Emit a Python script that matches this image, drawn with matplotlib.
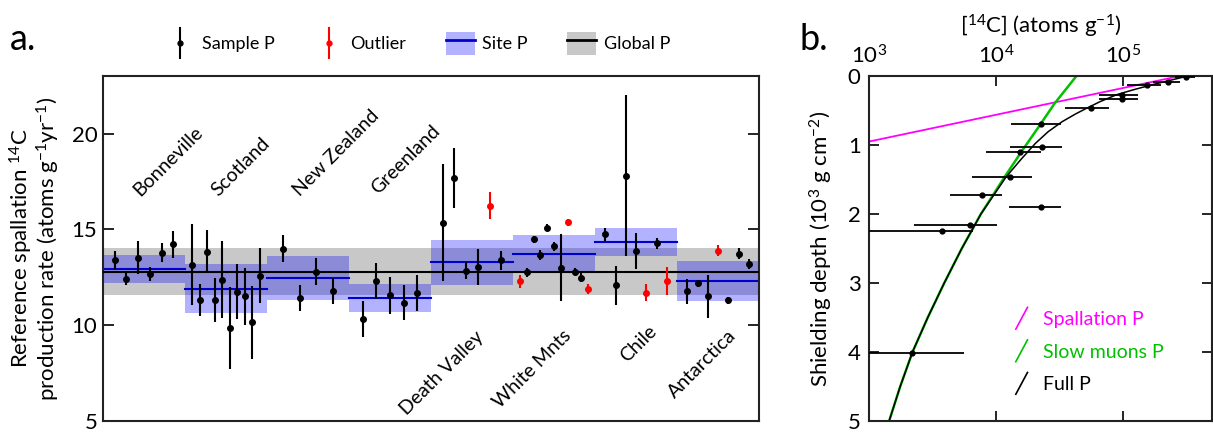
"""Two-panel 14C figure: site production rates (a) and shielding-depth profile (b)."""

import matplotlib
matplotlib.use("Agg")
import matplotlib.pyplot as plt
from matplotlib.legend_handler import HandlerBase, HandlerTuple
from matplotlib.lines import Line2D
from matplotlib.patches import Patch

plt.rcParams["font.family"] = ["Lato", "DejaVu Sans"]
plt.rcParams["mathtext.fontset"] = "custom"
plt.rcParams["mathtext.rm"] = "Lato"
plt.rcParams["mathtext.it"] = "Lato:italic"
plt.rcParams["mathtext.bf"] = "Lato:bold"

# ---- panel a data -------------------------------------------------------
SITES = ["Bonneville", "Scotland", "New Zealand", "Greenland",
         "Death Valley", "White Mnts", "Chile", "Antarctica"]
SITE_P = [12.93, 11.91, 12.46, 11.42, 13.27, 13.71, 14.34, 12.29]
SITE_ERR = [0.74, 1.29, 1.13, 0.72, 1.19, 0.99, 0.74, 1.04]
GLOBAL_P = 12.80
GLOBAL_ERR = 1.24

SAMPLE_P = [
    [13.39, 12.40, 13.52, 12.69, 13.77, 14.22],
    [13.16, 11.32, 13.84, 11.32, 12.38, 9.86, 11.75, 11.51, 10.14, 12.59],
    [13.99, 11.41, 12.78, 11.80],
    [10.31, 12.29, 11.55, 11.18, 11.68],
    [15.35, 17.66, 12.83, 13.06, 16.23, 13.39],
    [12.28, 12.75, 14.48, 13.65, 15.09, 14.11, 12.99, 15.36, 12.80, 12.48, 11.89],
    [14.74, 12.07, 17.80, 13.89, 11.70, 14.27, 12.33],
    [11.77, 12.19, 11.51, 13.89, 11.30, 13.73, 13.18],
]
SAMPLE_ERR = [
    [0.47, 0.30, 0.87, 0.36, 0.50, 0.69],
    [2.10, 0.85, 1.10, 1.15, 2.00, 2.13, 1.44, 1.48, 1.91, 1.44],
    [0.72, 0.69, 0.71, 0.68],
    [0.95, 0.94, 0.95, 0.92, 0.92],
    [3.05, 1.56, 0.44, 0.94, 0.71, 0.50],
    [0.35, 0.24, 0.17, 0.26, 0.20, 0.24, 1.75, 0.19, 0.16, 0.22, 0.24],
    [0.34, 1.03, 4.20, 0.94, 0.43, 0.28, 0.73],
    [0.64, 0.18, 1.13, 0.30, 0.19, 0.28, 0.26],
]
OUTLIER = [
    [0, 0, 0, 0, 0, 0],
    [0, 0, 0, 0, 0, 0, 0, 0, 0, 0],
    [0, 0, 0, 0],
    [0, 0, 0, 0, 0],
    [0, 0, 0, 0, 1, 0],
    [1, 0, 0, 0, 0, 0, 0, 1, 0, 0, 1],
    [0, 0, 0, 0, 1, 0, 1],
    [0, 0, 0, 1, 0, 0, 0],
]

# ---- panel b data -------------------------------------------------------
DEPTH = [0.01, 0.08, 0.135, 0.27, 0.34, 0.46, 0.70, 1.03, 1.10, 1.47,
         1.73, 1.90, 2.16, 2.25, 4.02]
C14 = [3.12e5, 2.26e5, 1.53e5, 9.8e4, 9.8e4, 5.6e4, 2.27e4, 2.29e4, 1.55e4,
       1.29e4, 7.7e3, 2.24e4, 6.2e3, 3.75e3, 2.16e3]
C14_ERR = [5.6e4, 5.4e4, 4.5e4, 3.3e4, 3.3e4, 2.1e4, 9.7e3, 1.0e4, 7.2e3,
           6.4e3, 3.4e3, 9.8e3, 3.95e3, 2.8e3, 3.46e3]

SPALL_DEPTH = [0.0, 0.95]
SPALL_C14 = [2.8e5, 1.0e3]
MUON_DEPTH = [0.0, 0.40, 0.75, 1.07, 1.46, 2.0, 2.5, 3.0, 3.5, 4.0, 4.5, 5.0]
MUON_C14 = [4.29e4, 2.88e4, 2.14e4, 1.62e4, 1.17e4, 7.59e3, 5.37e3, 3.91e3,
            2.90e3, 2.20e3, 1.76e3, 1.44e3]
FULL_DEPTH = [0.0, 0.04, 0.08, 0.135, 0.2, 0.27, 0.37, 0.46, 0.55, 0.662,
              0.807, 0.976, 1.2, 1.46, 2.0, 2.5, 3.0, 3.5, 4.0, 4.5, 5.0]
FULL_C14 = [3.236e5, 2.63e5, 2.138e5, 1.622e5, 1.202e5, 8.91e4, 6.61e4, 5.25e4,
            4.22e4, 3.31e4, 2.57e4, 2.04e4, 1.585e4, 1.202e4, 7.6e3, 5.37e3,
            3.91e3, 2.90e3, 2.20e3, 1.76e3, 1.44e3]

SITE_BLUE = "#0000cc"
BAND_GREY = "#c8c8c8"
MAGENTA = "#ff00ff"
GREEN = "#00c000"


class DiagonalHandler(HandlerBase):
    """Legend key drawn as a short '/' stroke."""

    def create_artists(self, legend, orig_handle, xdescent, ydescent,
                       width, height, fontsize, trans):
        x0 = -xdescent + 0.25 * width
        x1 = -xdescent + 0.75 * width
        line = Line2D([x0, x1], [-ydescent - 0.3 * height, -ydescent + 1.3 * height],
                      color=orig_handle.get_color(), lw=1.2, transform=trans)
        return [line]


class VerticalBarHandler(HandlerBase):
    """Legend key: vertical error bar with a dot in the middle."""

    def create_artists(self, legend, orig_handle, xdescent, ydescent,
                       width, height, fontsize, trans):
        xc = -xdescent + 0.5 * width
        bar = Line2D([xc, xc], [-ydescent - 0.15 * height, -ydescent + 1.15 * height],
                     color=orig_handle.get_color(), lw=1.5, transform=trans)
        dot = Line2D([xc], [-ydescent + 0.5 * height], marker="o", ms=3.5,
                     color=orig_handle.get_color(), transform=trans)
        return [bar, dot]


fig = plt.figure(figsize=(12.13, 4.32), dpi=100)
ax = fig.add_axes([103 / 1213, 11 / 432, 656 / 1213, 345 / 432])
axb = fig.add_axes([869 / 1213, 11 / 432, 343 / 1213, 345 / 432])

# ---- panel a ------------------------------------------------------------
ax.axhspan(GLOBAL_P - GLOBAL_ERR, GLOBAL_P + GLOBAL_ERR, color=BAND_GREY, lw=0, zorder=0)
for i, (p, e) in enumerate(zip(SITE_P, SITE_ERR)):
    ax.fill_between([i, i + 1], p - e, p + e, color="blue", alpha=0.3, lw=0, zorder=1)
    ax.plot([i, i + 1], [p, p], color=SITE_BLUE, lw=1.5, zorder=2)
ax.axhline(GLOBAL_P, color="black", lw=1.5, zorder=3)

for i, (vals, errs, flags) in enumerate(zip(SAMPLE_P, SAMPLE_ERR, OUTLIER)):
    n = len(vals)
    for k, (v, e, f) in enumerate(zip(vals, errs, flags)):
        c = "red" if f else "black"
        ax.errorbar(i + (k + 1) / (n + 1), v, yerr=e, fmt="o", color=c, ms=4,
                    elinewidth=1.5, capsize=0, zorder=4)

upper_pos = [(0.33, 16.6), (1.28, 16.6), (2.28, 16.6), (3.23, 16.7)]
lower_pos = [(4.68, 9.85), (5.75, 9.9), (6.79, 10.15), (7.76, 9.9)]
for name, (x, y) in zip(SITES[:4], upper_pos):
    ax.text(x, y, name, rotation=45, ha="left", va="bottom", fontsize=14)
for name, (x, y) in zip(SITES[4:], lower_pos):
    ax.text(x, y, name, rotation=45, ha="right", va="top", fontsize=14)

ax.set_xlim(0, 8)
ax.set_ylim(5, 23)
ax.set_xticks([])
ax.set_yticks([5, 10, 15, 20])
ax.tick_params(axis="y", direction="in", length=8, width=1.2, labelsize=16,
               right=True, pad=4)
for s in ax.spines.values():
    s.set_linewidth(1.5)
    s.set_color("#222222")
ax.set_ylabel("Reference spallation $^{14}$C\nproduction rate (atoms g$^{-1}$yr$^{-1}$)",
              fontsize=16, linespacing=1.0)
ax.yaxis.set_label_coords(-0.062, 0.5)

h_sample = Line2D([], [], color="black")
h_out = Line2D([], [], color="red")
h_site = (Patch(facecolor="#b2b2ff", lw=0), Line2D([], [], color=SITE_BLUE, lw=2))
h_global = (Patch(facecolor=BAND_GREY, lw=0), Line2D([], [], color="black", lw=2))
ax.legend([h_sample, h_out, h_site, h_global],
          ["Sample P", "Outlier", "Site P", "Global P"],
          handler_map={h_sample: VerticalBarHandler(), h_out: VerticalBarHandler(),
                       tuple: HandlerTuple(ndivide=1)},
          loc="center", bbox_to_anchor=(0.48, 1.095), ncol=4, frameon=False,
          fontsize=13, handlelength=1.6, handleheight=1.6, columnspacing=2.2,
          handletextpad=0.4)

fig.text(10 / 1213, 1 - 40 / 432, "a.", fontsize=26, va="center", ha="left")
fig.text(800 / 1213, 1 - 40 / 432, "b.", fontsize=26, va="center", ha="left")

# ---- panel b ------------------------------------------------------------
axb.plot(SPALL_C14, SPALL_DEPTH, color=MAGENTA, lw=1.3, label="Spallation P")
axb.plot(MUON_C14, MUON_DEPTH, color=GREEN, lw=1.8, label="Slow muons P")
axb.plot(FULL_C14, FULL_DEPTH, color="black", lw=1.1, label="Full P")
axb.errorbar(C14, DEPTH, xerr=C14_ERR, fmt="o", color="black", ms=3.5,
             elinewidth=1.3, capsize=0, zorder=5)

axb.set_xscale("log")
axb.set_xlim(1e3, 5e5)
axb.set_ylim(5, 0)
axb.set_yticks([0, 1, 2, 3, 4, 5])
axb.set_xticks([1e3, 1e4, 1e5])
axb.minorticks_off()
axb.xaxis.set_ticks_position("both")
axb.xaxis.set_label_position("top")
axb.tick_params(axis="x", direction="in", length=7, width=1.2, labelsize=16,
                top=True, bottom=True, labeltop=True, labelbottom=False, pad=6)
axb.tick_params(axis="y", direction="in", length=7, width=1.2, labelsize=16,
                right=True, pad=6)
for s in axb.spines.values():
    s.set_linewidth(1.5)
    s.set_color("#222222")
axb.set_xlabel("[$^{14}$C] (atoms g$^{-1}$)", fontsize=16, labelpad=8)
axb.set_ylabel("Shielding depth (10$^3$ g cm$^{-2}$)", fontsize=16)
axb.yaxis.set_label_coords(-0.1, 0.5)

axb.legend(loc="lower left", bbox_to_anchor=(0.36, 0.03), frameon=False,
           fontsize=14, handlelength=1.2, handletextpad=0.5, labelspacing=0.8,
           labelcolor="linecolor", handler_map={Line2D: DiagonalHandler()})

fig.savefig("out.png", dpi=100)
